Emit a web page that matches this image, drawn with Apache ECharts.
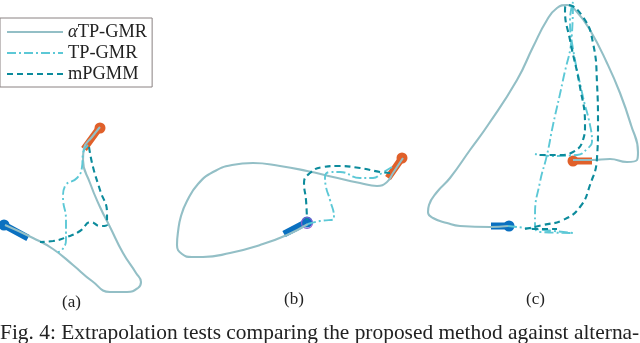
<!DOCTYPE html>
<html><head><meta charset="utf-8">
<style>html,body{margin:0;padding:0;background:#fff}#c{width:640px;height:343px}</style>
<script src="https://cdn.jsdelivr.net/npm/echarts@6/dist/echarts.min.js"></script></head>
<body><div id="c"></div>
<script>
const methodNames = ['αTP-GMR','TP-GMR','mPGMM'];
const panelLabels = ['(a)','(b)','(c)'];
const caption = 'Fig. 4: Extrapolation tests comparing the proposed method against alterna-';

const alphaA = [[100,127],[92,137],[84,148],[83,160],[90,183],[100,207],[110,227],[123,253],[136,273],[141,282],[138,288],[127,292],[110,292],[92,281],[73,265],[53,249],[33,238],[5,225]];
const alphaB = [[403,158],[393,173],[387,182],[377,186],[360,183],[333,177],[307,171],[280,166],[253,163],[232,165],[213,172],[198,184],[187,201],[181,216],[178,232],[177,245],[182,254],[192,257],[203,257],[230,253],[260,245],[287,235],[308,224]];
const alphaC = [[573,160],[592,160],[610,159],[627,162],[637,160],[638,152],[631,125],[620,93],[607,63],[590,30],[577,12],[567,5],[557,8],[547,20],[533,47],[517,80],[488,125],[470,150],[450,178],[437,192],[429,205],[428,212],[433,218],[447,223],[460,226],[490,227],[508,226]];
const tpA = [[88,145],[83,153],[82,167],[77,178],[65,186],[63,197],[66,220],[66,240],[62,250],[58,252]];
const tpB = [[392,167],[382,173],[373,178],[360,178],[340,172],[330,172],[325,177],[326,187],[330,200],[334,218],[334,219],[320,221],[308,224]];
const tpC = [[508,226],[535,229],[573,233],[540,232],[535,227],[535,215],[540,182],[547,155],[553,125],[563,80],[572,33],[573,2],[570,20],[572,43],[583,97],[590,125],[592,142],[588,148],[577,155],[553,156],[535,154]];
const mpA = [[89,147],[93,167],[100,190],[107,213],[107,225],[100,226],[91,222],[80,231],[67,237],[53,241],[40,242]];
const mpB = [[390,173],[380,172],[360,168],[337,166],[323,167],[310,173],[304,183],[306,200],[307,220]];
const mpC = [[525,229],[543,225],[563,220],[580,207],[590,185],[597,158],[598,125],[597,83],[593,43],[583,17],[567,5],[565,10],[570,40],[580,87],[585,125],[583,140],[573,152],[560,155],[537,155]];
const mpC2 = [[532,229],[557,229]];

const orangeBars = [[[100,127],[84,149]],[[402,158],[388,178]],[[573,161],[592,161]]];
const blueBars = [[[4,225],[28,238]],[[307,222],[284,234]],[[491,226],[509,226]]];
const orangeDots = [[100,128],[402,158],[573,161]];
const blueDots = [[4,225],[307,222],[509,226]];
const ringDots = [[307,223]];

const joinParts = parts => parts.flatMap((p,i)=> i ? [[null,null],...p] : p);
const lineSeries = (name,data,color,type,width) => ({name,type:'line',data:joinParts(data),smooth:0.5,showSymbol:false,symbol:'none',z:5,
  connectNulls:false,lineStyle:{color,width,type},itemStyle:{color},animation:false});
const barSeries = (data,color) => ({type:'line',data:joinParts(data),showSymbol:false,symbol:'none',z:3,lineStyle:{color,width:7,cap:'butt'},animation:false,silent:true});
const dotSeries = (data,color) => ({type:'scatter',data,symbolSize:11,z:3,itemStyle:{color,opacity:1},animation:false,silent:true});

const serif = '"Liberation Serif", serif';
const chart = echarts.init(document.getElementById('c'));
chart.setOption({
  animation:false,
  grid:{left:0,right:0,top:0,bottom:0},
  xAxis:{type:'value',min:0,max:640,show:false},
  yAxis:{type:'value',min:0,max:343,inverse:true,show:false},
  legend:{data:methodNames,orient:'vertical',left:0,top:18,itemWidth:56,itemHeight:14,itemGap:3,itemStyle:{opacity:0},
    padding:[5,5,4,6],borderColor:'#8a8282',borderWidth:1,backgroundColor:'#fff',
    formatter:n=> n[0]==='α' ? '{i|α}'+n.slice(1) : n,
    textStyle:{fontFamily:serif,fontSize:18.4,lineHeight:17,color:'#222',rich:{i:{fontStyle:'italic',fontFamily:serif,fontSize:18.4,lineHeight:17,color:'#222'}}}},
  series:[
    barSeries(orangeBars,'#e0602a'),barSeries(blueBars,'#0a70c0'),
    dotSeries(orangeDots,'#e0602a'),dotSeries(blueDots,'#0a70c0'),
    {type:'scatter',data:ringDots,symbolSize:11,z:4,itemStyle:{color:'transparent',borderColor:'#8a5fd0',borderWidth:1.2,opacity:1},animation:false,silent:true},
    lineSeries(methodNames[0],[alphaA,alphaB,alphaC],'#93bfc6','solid',2.1),
    lineSeries(methodNames[1],[tpA,tpB,tpC],'#5cc8d6',[9,3,2,3],1.9),
    lineSeries(methodNames[2],[mpA,mpB,mpC,mpC2],'#0c8b9c',[6,4],2.1)
  ],
  graphic:[
    ...panelLabels.map((t,i)=>({type:'text',left:[62,284,526][i],top:[294,291,291][i],style:{text:t,font:'17px '+serif,fill:'#222'}})),
    {type:'text',left:0,top:323,style:{text:caption,font:'21.4px '+serif,fill:'#222'}}
  ]
});
</script></body></html>
